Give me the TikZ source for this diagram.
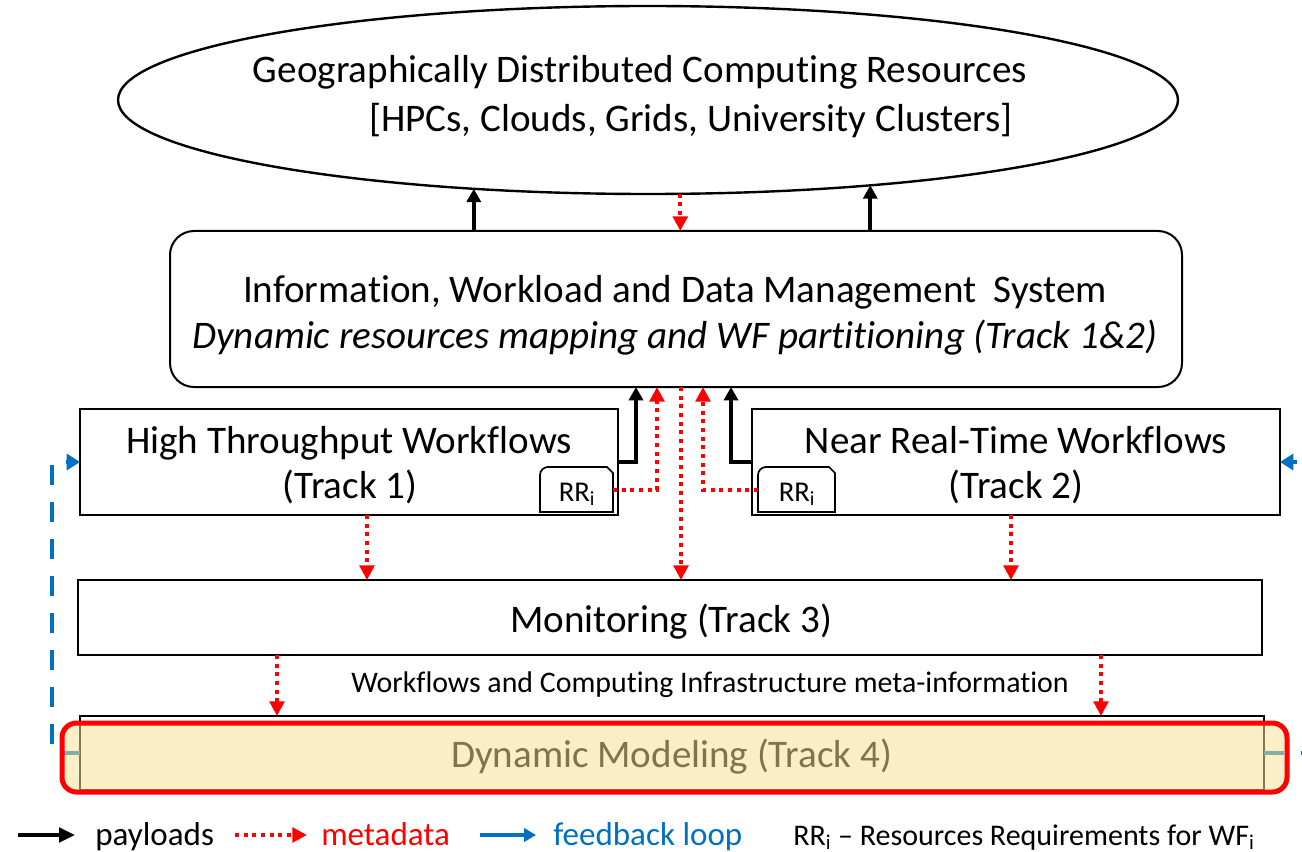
\documentclass[tikz,border=0pt]{standalone}
\usepackage{fontspec}
\setmainfont{Carlito}[Ligatures=NoCommon]
\usetikzlibrary{arrows.meta,shapes.geometric}
\definecolor{metared}{RGB}{255,0,0}
\definecolor{fbblue}{RGB}{0,112,192}
\definecolor{dmyellow}{RGB}{246,225,149}
\definecolor{dmtext}{RGB}{128,116,76}

\begin{document}
\begin{tikzpicture}[x=0.75pt,y=-0.75pt,
  box/.style={draw=black, line width=1.5pt, fill=white, inner sep=0pt, outer sep=0pt},
  txt/.style={anchor=base, inner sep=0pt, font=\fontsize{29.3}{35}\selectfont},
  rrtxt/.style={anchor=base, inner sep=0pt, font=\fontsize{21.5}{25}\selectfont},
  lgtxt/.style={anchor=base west, inner sep=0pt, font=\fontsize{24.8}{29}\selectfont},
  payload/.style={draw=black, line width=3.2pt, -{Triangle[width=10.5pt,length=10pt]}},
  meta/.style={draw=metared, line width=3pt, dash pattern=on 3pt off 3.5pt, -{Triangle[width=11pt,length=11pt]}},
  feedback/.style={draw=fbblue, line width=3pt, dash pattern=on 15pt off 12.75pt, -{Triangle[width=12pt,length=10pt]}},
]
\useasboundingbox (0,0) rectangle (1302,852);
\clip (0,0) rectangle (1302,852);

% computing resources
\node[box, ellipse, line width=1.8pt, minimum width=795pt, minimum height=141pt] (geo) at (648,100) {};
\node[txt] (geo1) at (640,83) {Geographically Distributed Computing Resources};
\node[txt] (geo2) at (691,132) {[HPCs, Clouds, Grids, University Clusters]};

% management system
\node[box, rounded corners=18pt, minimum width=759pt, minimum height=117pt] (iwdms) at (676,309) {};
\node[txt] (iw1) at (675,302) {Information, Workload and Data Management~ System};
\node[txt, font=\fontsize{29.3}{35}\selectfont\itshape] (iw2) at (675,348) {Dynamic resources mapping and WF partitioning (Track 1\&2)};

% workflow tracks
\node[box, minimum width=403.5pt, minimum height=79.5pt] (htw) at (349,462) {};
\node[txt] (htw1) at (349,453) {High Throughput Workflows};
\node[txt] (htw2) at (350,498) {(Track 1)};
\node[box, minimum width=396pt, minimum height=79.5pt] (nrtw) at (1016,462) {};
\node[txt] (nr1) at (1016,453) {Near Real-Time Workflows};
\node[txt] (nr2) at (1016,498) {(Track 2)};

% resource requirement tags
\node[inner sep=0pt, outer sep=0pt, minimum width=54.75pt, minimum height=33.75pt] (rrL) at (576.5,489.5) {};
\node[inner sep=0pt, outer sep=0pt, minimum width=57.75pt, minimum height=33.75pt] (rrR) at (796.5,489.5) {};
\foreach \r in {rrL,rrR}{
  \draw[line width=1.3pt, fill=white] (\r.south west) -- ([yshift=-6pt]\r.north west)
    arc[start angle=180, end angle=90, radius=6pt] -- ([xshift=-4.5pt]\r.north east)
    -- ([yshift=-4.5pt]\r.north east) -- (\r.south east) -- cycle;
}
\node[rrtxt] (rrLt) at (577,501) {RR\textsubscript{i}};
\node[rrtxt] (rrRt) at (797,501) {RR\textsubscript{i}};

% monitoring
\node[box, minimum width=888pt, minimum height=56.25pt] (mon) at (670,617.5) {};
\node[txt] (mont) at (671,632) {Monitoring (Track 3)};
\node[txt, font=\fontsize{22.4}{27}\selectfont] (metat) at (710,692) {Workflows and Computing Infrastructure meta-information};

% dynamic modeling
\node[box, line width=0.9pt, minimum width=888pt, minimum height=55.5pt] (dm) at (672,753) {};

% connectors between the resources and the management system
\draw[payload] (geo.207 |- iwdms.north) -- (geo.207);
\draw[payload] (geo.339.3 |- iwdms.north) -- (geo.339.3);
\draw[meta] (geo.289) -- (geo.289 |- iwdms.north);

% connectors into the management system
\coordinate (bL) at (iwdms.south -| 636,0);
\coordinate (rL) at (iwdms.south -| 657,0);
\coordinate (cM) at (iwdms.south -| 681,0);
\coordinate (rR) at (iwdms.south -| 703,0);
\coordinate (bR) at (iwdms.south -| 731,0);
\draw[payload] (htw.east) -| (bL);
\draw[meta] (rrL.east) -| (rL);
\draw[meta] (cM) -- (cM |- mon.north);
\draw[meta] (rrR.west) -| (rR);
\draw[payload] (nrtw.west) -| (bR);

% metadata towards monitoring and modeling
\draw[meta] (htw.south -| 367,0) -- (mon.north -| 367,0);
\draw[meta] (nrtw.south -| 1011,0) -- (mon.north -| 1011,0);
\draw[meta] (mon.south -| 277,0) -- (dm.north -| 277,0);
\draw[meta] (mon.south -| 1101,0) -- (dm.north -| 1101,0);

% feedback loops
\coordinate (fbL) at (dm.west -| 52,0);
\coordinate (fbR) at (dm.east -| 1320,0);
\draw[feedback] (dm.west) -- (fbL) |- (htw.west);
\draw[feedback] (dm.east) -- (fbR) |- (nrtw.east);

% highlight over the modeling track
\node[draw=metared, line width=3.75pt, fill=dmyellow, fill opacity=0.54, draw opacity=1,
      rounded corners=11pt, inner sep=0pt, minimum width=918.75pt, minimum height=51.75pt] (ovl) at (674.5,757.5) {};
\node[txt, text=dmtext] (dmt) at (671.5,767) {Dynamic Modeling (Track 4)};

% legend
\coordinate (lp1) at (18,835);  \coordinate (lp2) at (75,835);
\coordinate (lm1) at (235,835); \coordinate (lm2) at (307,835);
\coordinate (lf1) at (480,835); \coordinate (lf2) at (536,835);
\draw[payload, line width=2.6pt, -{Triangle[width=11pt,length=12pt]}] (lp1) -- (lp2);
\draw[meta, -{Triangle[width=11pt,length=11pt]}] (lm1) -- (lm2);
\draw[draw=fbblue, line width=3pt, -{Triangle[width=10pt,length=9pt]}] (lf1) -- (lf2);
\node[lgtxt] (lgpay) at (95,845) {payloads};
\node[lgtxt, text=metared] (lgmeta) at (321,845) {metadata};
\node[lgtxt, text=fbblue] (lgfb) at (553,845) {feedback loop};
\node[lgtxt, font=\fontsize{22.5}{27}\selectfont] (lgrr) at (793,845) {RR\textsubscript{i} – Resources Requirements for WF\textsubscript{i}};
\end{tikzpicture}
\end{document}
